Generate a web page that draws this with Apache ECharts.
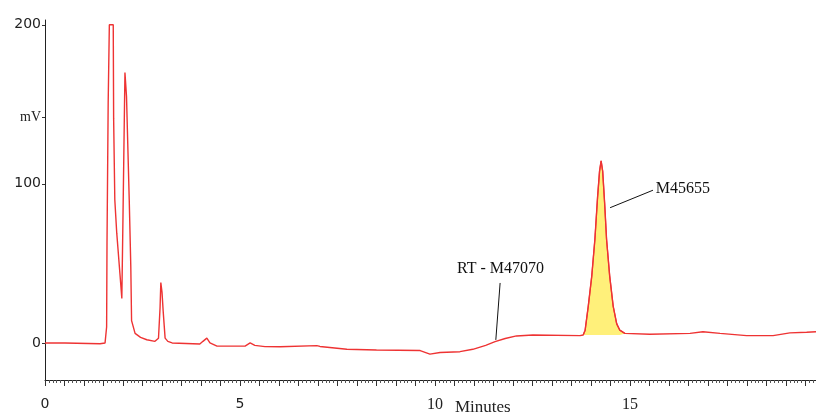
<!DOCTYPE html>
<html>
<head>
<meta charset="utf-8">
<script src="https://cdn.jsdelivr.net/npm/echarts@6/dist/echarts.min.js"></script>
<style>
  html, body { margin: 0; padding: 0; background: #fff; }
</style>
</head>
<body>
<div id="chart" style="width: 816px; height: 415px;"></div>
<script>
// retention time (minutes) and detector signal (mV)
const times = [0, 0.51, 1.41, 1.54, 1.58, 1.59, 1.62, 1.65, 1.75, 1.76, 1.79, 1.84, 1.92, 1.97,
  2.0, 2.05, 2.09, 2.16, 2.2, 2.22, 2.31, 2.45, 2.61, 2.82, 2.91, 2.95, 2.97, 3.0, 3.03, 3.08,
  3.15, 3.26, 3.97, 4.05, 4.15, 4.23, 4.41, 5.13, 5.26, 5.38, 5.64, 6.03, 6.97, 7.05, 7.74,
  8.5, 9.62, 9.87, 10.13, 10.64, 10.97, 11.3, 11.54, 11.8, 12.09, 12.51, 13.72, 13.8, 13.85,
  13.93, 14.02, 14.1, 14.17, 14.22, 14.26, 14.3, 14.35, 14.4, 14.48, 14.57, 14.66, 14.74,
  14.87, 15.51, 16.54, 16.87, 17.31, 17.99, 18.67, 19.1, 19.53, 19.77];
const mv = [0, 0, -0.5, 0, 10, 63, 151, 200, 200, 141, 90, 69, 44, 28,
  80, 170, 155, 90, 48, 14, 6, 3.5, 2, 1, 3, 22, 38, 32, 20, 3,
  1, 0, -0.7, 1, 3, 0, -2, -2, 0, -1.5, -2.3, -2.4, -1.7, -2.2, -4,
  -4.4, -4.8, -7, -6, -5.5, -4, -1.5, 0.8, 2.8, 4.4, 5, 4.6, 5, 8,
  23, 42, 65, 92, 108, 114.5, 108, 88, 65, 42, 23, 12, 8,
  6, 5.5, 6, 7, 6, 4.6, 4.6, 6.3, 6.7, 7];

const yTicks = [0, 100, 200];
const yUnitAt = 142;           // where the "mV" tick sits
const xLabels = [0, 5, 10, 15];
const peakStart = 13.78, peakEnd = 14.9, peakBase = 5;

const trace = times.map((t, i) => [t, mv[i]]);
const peak = trace.filter(p => p[0] >= peakStart && p[0] <= peakEnd);

const chart = echarts.init(document.getElementById('chart'));

const option = {
  animation: false,
  grid: { left: 45, right: 0, top: 20, bottom: 35 },
  xAxis: {
    type: 'value',
    min: 0,
    max: 19.77,
    interval: 0.5,
    axisLine: { onZero: false, lineStyle: { color: '#222', width: 1 } },
    axisTick: { length: 6, lineStyle: { color: '#333' } },
    minorTick: { show: true, splitNumber: 5, length: 3, lineStyle: { color: '#555' } },
    splitLine: { show: false },
    axisLabel: {
      margin: 17,
      showMaxLabel: false,
      formatter: v => {
        if (xLabels.indexOf(v) < 0) return '';
        return v < 10 ? '{s|' + v + '}' : '{r|' + v + '}';
      },
      rich: {
        s: { fontFamily: 'DejaVu Sans', fontSize: 14, color: '#222' },
        r: { fontFamily: 'Liberation Serif', fontSize: 16, color: '#222' }
      }
    }
  },
  yAxis: {
    type: 'value',
    min: -23.3,
    max: 203,
    axisLine: { show: true, onZero: false, lineStyle: { color: '#222', width: 1 } },
    axisTick: { show: true, length: 3, customValues: yTicks.concat([yUnitAt]), lineStyle: { color: '#333' } },
    splitLine: { show: false },
    axisLabel: {
      margin: 4,
      customValues: yTicks.concat([yUnitAt]),
      formatter: v => (v === yUnitAt ? '{u|mV}' : '{n|' + v + '}'),
      rich: {
        n: { fontFamily: 'DejaVu Sans', fontSize: 14, color: '#222' },
        u: { fontFamily: 'Liberation Serif', fontSize: 14, color: '#222' }
      }
    }
  },
  graphic: [
    {
      type: 'text',
      left: 455,
      top: 399,
      style: { text: 'Minutes', font: '17px "Liberation Serif"', fill: '#222' }
    }
  ],
  series: [
    {
      name: 'M45655 peak',
      type: 'line',
      data: peak,
      symbol: 'none',
      lineStyle: { color: '#ee4444', width: 1.2 },
      areaStyle: { color: '#fff07a', opacity: 1, origin: peakBase },
      z: 1
    },
    {
      name: 'signal',
      type: 'line',
      data: trace,
      symbol: 'none',
      lineStyle: { color: '#ee3333', width: 1.4 },
      z: 2,
      markLine: {
        silent: true,
        symbol: ['none', 'none'],
        lineStyle: { color: '#111', width: 1, type: 'solid' },
        label: {
          position: 'end',
          color: '#111',
          fontFamily: 'Liberation Serif',
          fontSize: 16
        },
        data: [
          [
            { coord: [11.56, 1.9] },
            { coord: [11.67, 37.7], label: { formatter: 'RT - M47070', distance: 6 } }
          ],
          [
            { coord: [14.49, 85] },
            { coord: [15.59, 96], label: { formatter: 'M45655', distance: 3 } }
          ]
        ]
      }
    }
  ]
};

chart.setOption(option);

window.addEventListener('resize', () => {
  chart.resize();
});
</script>
</body>
</html>
